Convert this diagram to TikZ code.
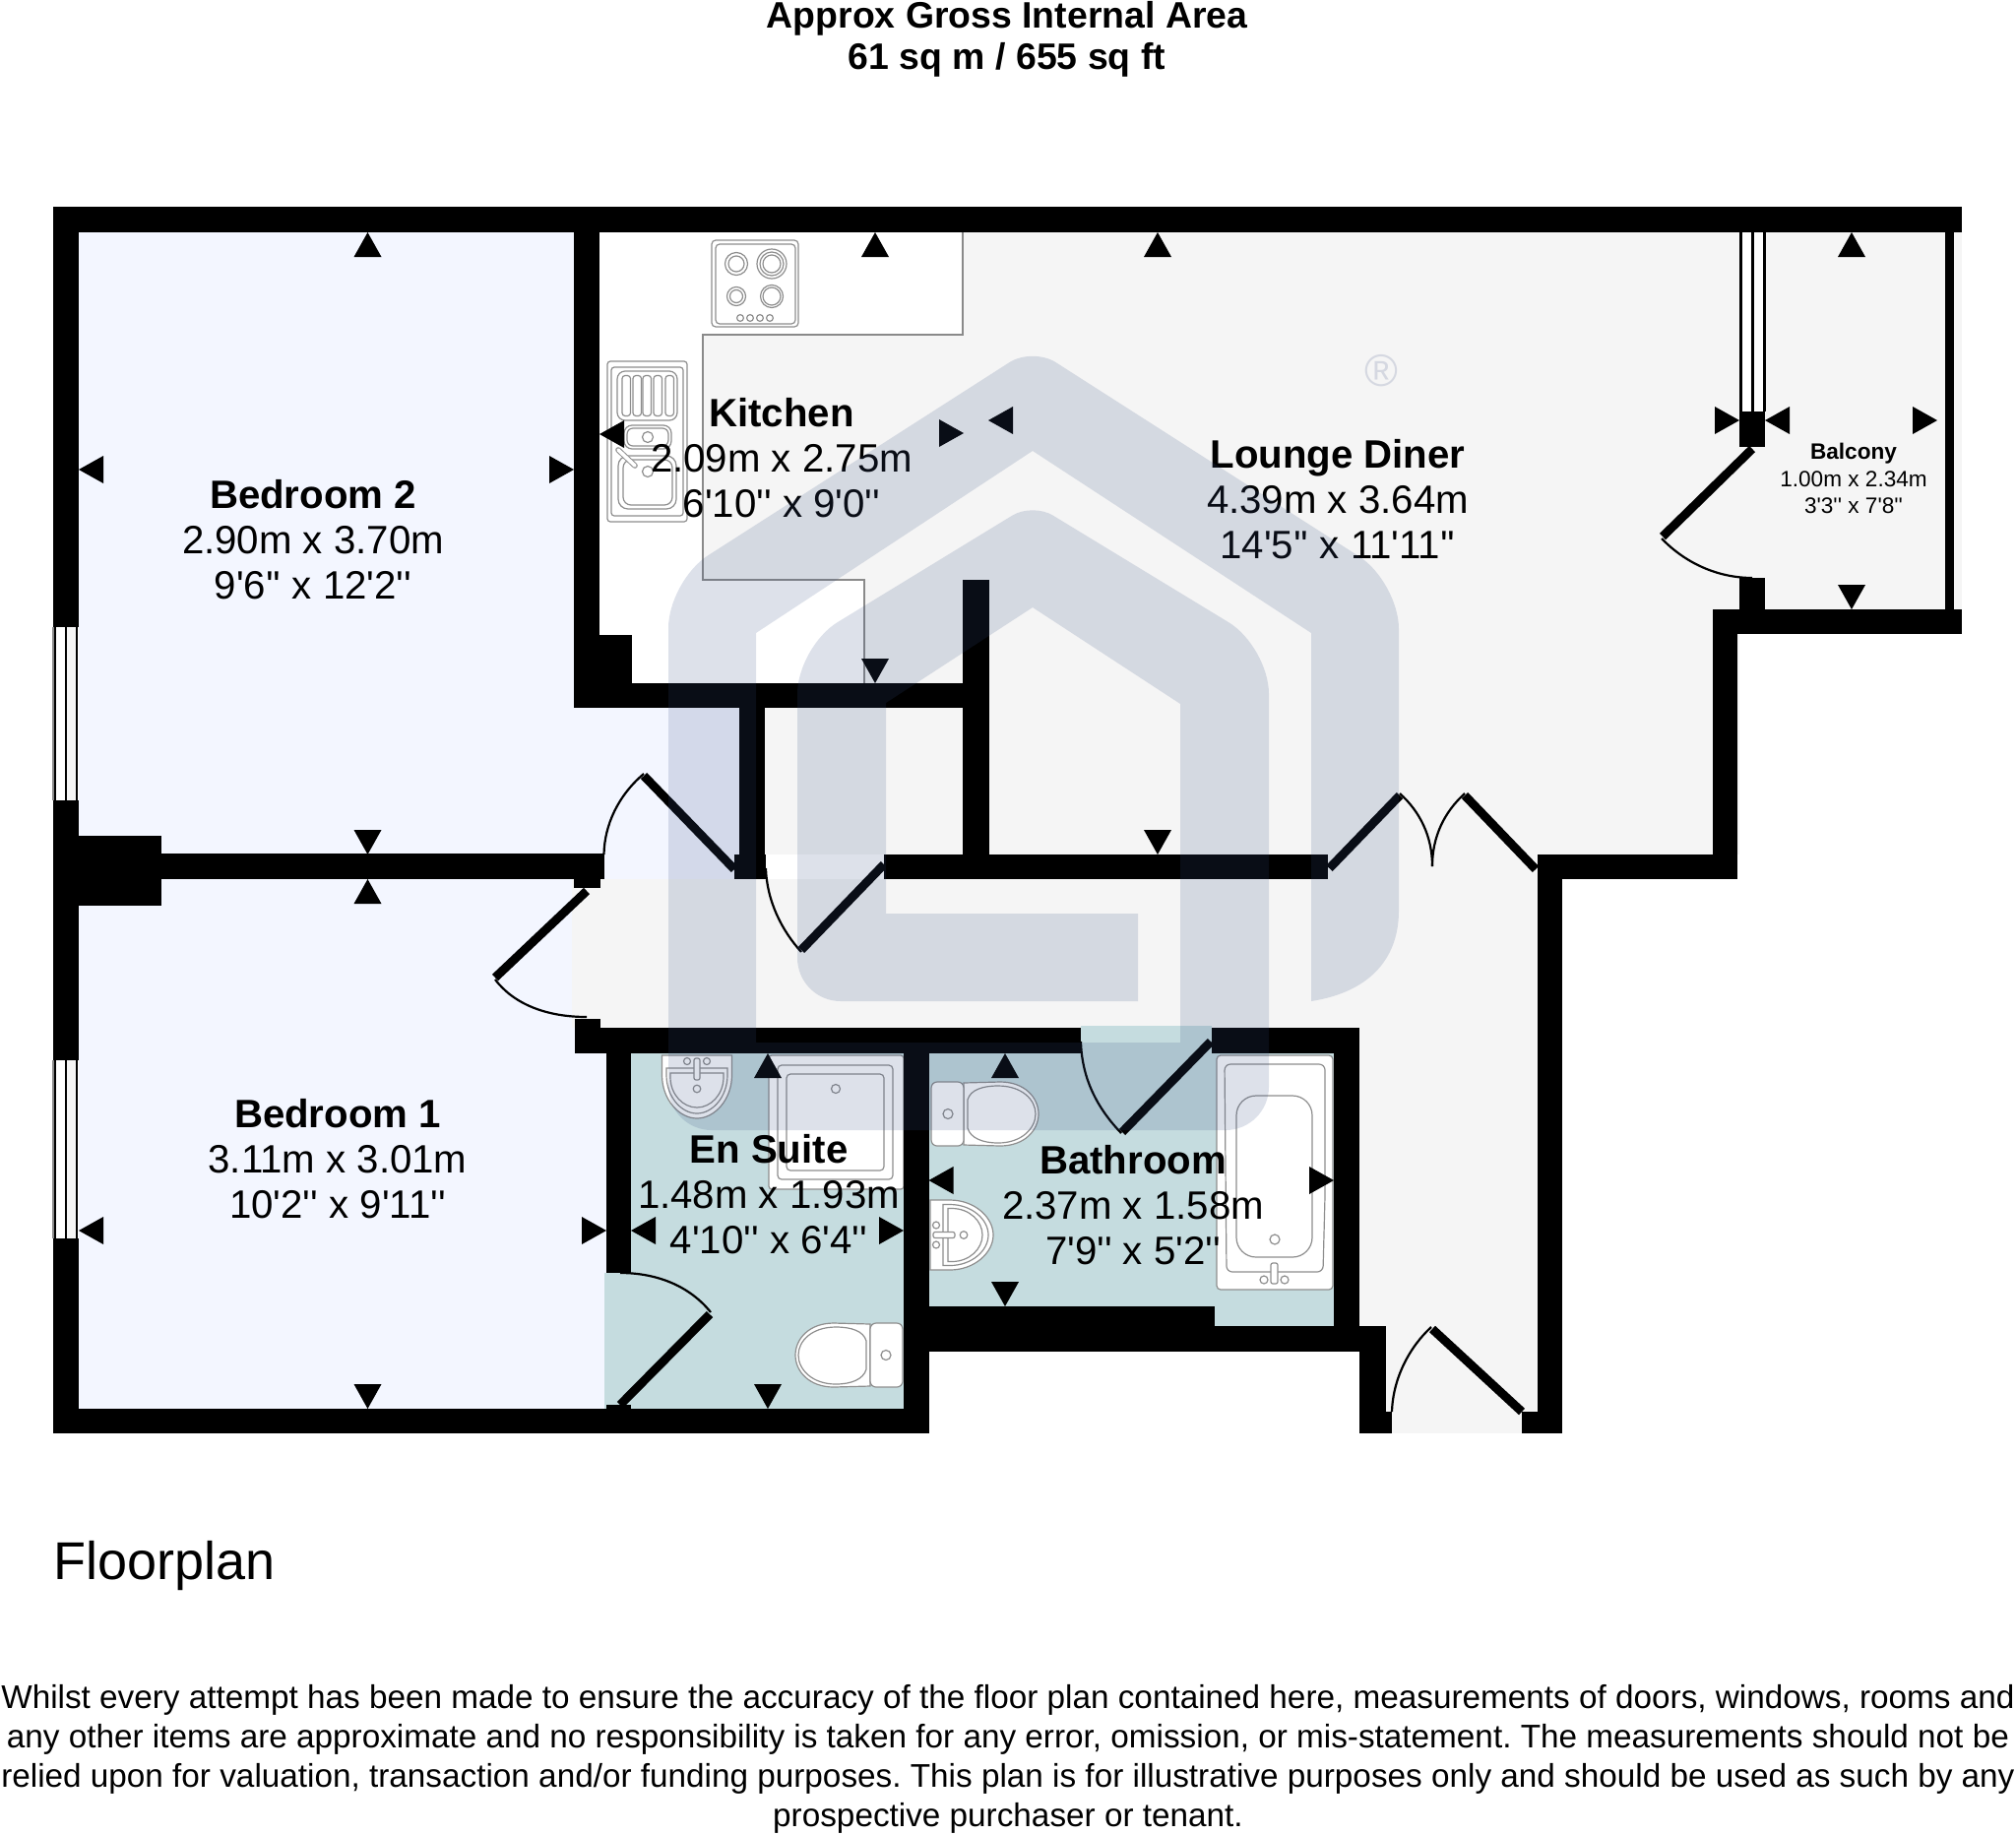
\documentclass[tikz,border=0pt]{standalone}
\usepackage{fontspec}
\setmainfont{Liberation Sans}[Ligatures=TeXOff]
\frenchspacing
\definecolor{bedblue}{HTML}{F3F6FF}
\definecolor{floorgray}{HTML}{F5F5F5}
\definecolor{wetteal}{HTML}{C5DCDF}
\definecolor{fixgray}{HTML}{8E8E8E}
\definecolor{linegray}{HTML}{8A8A8A}
\definecolor{wmark}{HTML}{374F84}
\definecolor{regmark}{HTML}{D5D8E1}
\tikzset{
  wallfill/.style={fill=black},
  fixture/.style={draw=fixgray,fill=white,line width=0.6pt},
  fixline/.style={draw=fixgray,line width=0.6pt},
  leaf/.style={draw=black,line width=4.4pt},
  swing/.style={draw=black,line width=1.1pt},
  roomtext/.style={align=center,inner sep=0pt,font=\fontsize{20.1}{23}\selectfont},
  smalltext/.style={align=center,inner sep=0pt,font=\fontsize{11.3}{13.6}\selectfont},
  headtext/.style={align=center,inner sep=0pt,font=\bfseries\fontsize{18.7}{21}\selectfont},
  disctext/.style={align=center,inner sep=0pt,font=\fontsize{16.65}{20}\selectfont},
  wm/.style={fill=wmark,fill opacity=0.17}
}
\newcommand\wallrect[4]{\fill[wallfill] (#1,#2) rectangle (#3,#4);}
\newcommand\arrowmark[3]{\fill[black,shift={(#1,#2)},rotate=#3] (0,0) -- (-25,14) -- (-25,-14) -- cycle;}
\newcommand\basinshape{%
  \draw[fixture] (0,-35.5) -- (20,-35.5) .. controls (45,-35.5) and (64,-18) .. (64,0) .. controls (64,18) and (45,35.5) .. (20,35.5) -- (0,35.5) -- cycle;
  \draw[fixline] (13,-31) -- (20,-31) .. controls (42,-31) and (59,-16) .. (59,0) .. controls (59,16) and (42,31) .. (20,31) -- (13,31) -- cycle;
  \draw[fixline] (18,-27) -- (22,-27) .. controls (40,-27) and (53,-14) .. (53,0) .. controls (53,14) and (40,27) .. (22,27) -- (18,27) -- cycle;
  \draw[fixture] (6,-10) circle (3.5);
  \draw[fixture] (6,10) circle (3.5);
  \draw[fixture,rounded corners=1pt] (3,-3) rectangle (25,3);
  \draw[fixline] (34,0) circle (3.8);
}
\newcommand\toiletshape{%
  \draw[fixture] (33,1) -- (70,0) .. controls (95,0) and (109,16) .. (109,32.5) .. controls (109,49) and (95,65) .. (70,65) -- (33,64) -- cycle;
  \draw[fixline] (37,18) .. controls (40,8) and (52,4) .. (68,4) .. controls (92,4) and (106,18) .. (106,32.5) .. controls (106,47) and (92,62) .. (68,62) .. controls (52,62) and (40,57) .. (37,47) -- cycle;
  \draw[fixture,rounded corners=3pt] (0,0) rectangle (33,65);
  \draw[fixline] (17,32.5) circle (5);
}
\begin{document}
\begin{tikzpicture}[x=0.5pt,y=-0.5pt]
\useasboundingbox (0,0) rectangle (2048,1863);
% floors
\fill[floorgray] (714,236) rectangle (1767,868);
\fill[floorgray] (1793,236) rectangle (1993,620);
\fill[floorgray] (581,893) rectangle (1562,1044);
\fill[floorgray] (1349,868) rectangle (1562,893);
\fill[floorgray] (1381,1044) rectangle (1562,1456);
\fill[floorgray] (1767,236) rectangle (1793,620);
\fill[bedblue] (80,236) rectangle (583,868);
\fill[bedblue] (583,719) rectangle (751,893);
\fill[bedblue] (80,893) rectangle (581,1044);
\fill[bedblue] (80,1044) rectangle (616,1431);
\fill[white] (609,236) -- (978,236) -- (978,340) -- (714,340) -- (714,589) -- (878,589) -- (878,694) -- (609,694) -- cycle;
\fill[wetteal] (641,1070) rectangle (918,1431);
\fill[wetteal] (614,1293) rectangle (641,1431);
\fill[wetteal] (943.5,1070) -- (1355,1070) -- (1355,1347) -- (1234,1347) -- (1234,1327) -- (943.5,1327) -- cycle;
\fill[wetteal] (1098,1042) rectangle (1231,1070);
\draw[linegray,line width=0.6pt] (978,236) -- (978,340) -- (714,340) -- (714,589) -- (878,589) -- (878,694);
% kitchen hob
\draw[fixture,rounded corners=2pt] (723,244) rectangle (811,332);
\draw[fixline,rounded corners=2pt] (727,248) rectangle (808,329);
\draw[fixline] (748,268) circle (11.5) (748,268) circle (8);
\draw[fixline] (784,268) circle (15) (784,268) circle (12) (784,268) circle (9);
\draw[fixline] (748,301) circle (9.5) (748,301) circle (6.5);
\draw[fixline] (784,301) circle (11.5) (784,301) circle (9);
\foreach \kx in {752,762,772,782} {\draw[fixline] (\kx,323) circle (3.4);}
% kitchen sink
\draw[fixture,rounded corners=1.5pt] (617,367) rectangle (698,530);
\draw[fixline,rounded corners=1.5pt] (621,373) rectangle (694,524);
\draw[fixline,rounded corners=4pt] (627,377) rectangle (688,427);
\foreach \sx in {632,643,653,664,676} {\draw[fixline,rounded corners=1.5pt] (\sx,381.5) rectangle ++(8.5,41);}
\draw[fixline,rounded corners=4pt] (634,432) rectangle (682,456);
\draw[fixline,rounded corners=3pt] (637,435) rectangle (679,453);
\draw[fixline] (658,444) circle (5.5);
\draw[fixline,rounded corners=5pt] (628,463) rectangle (687,517);
\draw[fixline,rounded corners=4pt] (633,467) rectangle (683,513);
\draw[fixline] (658,479) circle (5.5);
\draw[fixgray,line width=2.8pt,line cap=round] (628,457) -- (645,473);
\draw[white,line width=1.8pt,line cap=round] (628,457) -- (645,473);
% en suite fixtures
\draw[fixture,rounded corners=1.5pt] (781,1072) rectangle (918,1208);
\draw[fixline,rounded corners=2pt] (790,1082) rectangle (907,1198);
\draw[fixline,rounded corners=2pt] (799,1091) rectangle (898,1189);
\draw[fixline] (849,1106) circle (4.5);
\begin{scope}[shift={(708,1072)},rotate=-90]\basinshape\end{scope}
\begin{scope}[shift={(917,1344)},xscale=-1]\toiletshape\end{scope}
% bathroom fixtures
\begin{scope}[shift={(946,1099)}]\toiletshape\end{scope}
\begin{scope}[shift={(945,1254.5)}]\basinshape\end{scope}
\draw[fixture,rounded corners=2pt] (1236,1072) rectangle (1354,1310);
\draw[fixline,rounded corners=3pt] (1244,1081) -- (1346,1081) -- (1346,1215) -- (1344,1292) -- (1246,1292) -- cycle;
\draw[fixline,rounded corners=10pt] (1256,1113) rectangle (1333,1277);
\draw[fixline] (1295,1259) circle (5);
\draw[fixline] (1284,1300) circle (4);
\draw[fixline] (1305,1300) circle (4);
\draw[fixture,rounded corners=1pt] (1291,1283) rectangle (1298,1304);
% walls
\wallrect{54}{210}{1993}{236}
\wallrect{54}{210}{80}{637}
\wallrect{54}{813}{80}{1077}
\wallrect{54}{1258}{80}{1456}
\wallrect{80}{849}{164}{920}
\wallrect{164}{867}{613.5}{893}
\wallrect{583}{893}{610}{902}
\wallrect{583}{236}{609}{719}
\wallrect{609}{645}{642}{694}
\wallrect{583}{694}{1005}{719}
\wallrect{751}{719}{777}{868}
\wallrect{746}{868}{778}{893}
\wallrect{978}{589}{1005}{868}
\wallrect{898}{868}{1349}{893}
\wallrect{1562}{868}{1765}{893}
\wallrect{1740}{619}{1765}{893}
\wallrect{1740}{619}{1993}{644}
\wallrect{1767}{587}{1793}{619}
\wallrect{1767}{418}{1793}{454}
\wallrect{1976}{236}{1985}{619}
\wallrect{1562}{893}{1587}{1456}
\wallrect{584}{1044}{1098}{1070}
\wallrect{1231}{1044}{1381}{1070}
\wallrect{584}{1035}{610}{1044}
\wallrect{616}{1070}{641}{1293}
\wallrect{616}{1427}{641}{1431}
\wallrect{54}{1431}{943.5}{1456}
\wallrect{918}{1070}{943.5}{1431}
\wallrect{943.5}{1327}{1234}{1373}
\wallrect{1234}{1347}{1408}{1373}
\wallrect{1355}{1070}{1381}{1347}
\wallrect{1381}{1347}{1408}{1456}
\wallrect{1408}{1434}{1414}{1456}
\wallrect{1546}{1434}{1562}{1456}
% windows
\fill[black] (1767,236) rectangle (1794,418);
\fill[white] (1770,236) rectangle (1779,418);
\fill[white] (1782,236) rectangle (1791,418);
\fill[black] (55,637) rectangle (79,813);
\draw[linegray,line width=0.6pt] (54,637) -- (54,813);
\fill[white] (56.5,637) rectangle (66,813);
\fill[floorgray] (68,637) rectangle (77,813);
\fill[black] (55,1077) rectangle (79,1258);
\draw[linegray,line width=0.6pt] (54,1077) -- (54,1258);
\fill[white] (56.5,1077) rectangle (66,1258);
\fill[floorgray] (68,1077) rectangle (77,1258);
% doors
\draw[leaf] (746,883) -- (654,788);
\draw[swing] (654,786) .. controls (628,808) and (614,838) .. (613.5,868);
\draw[leaf] (898,878) -- (814,965);
\draw[swing] (814,967) .. controls (794,945) and (779,915) .. (778,882);
\draw[leaf] (1350.5,882) -- (1422,808);
\draw[swing] (1422,806) .. controls (1443,825) and (1455,850) .. (1455,880);
\draw[leaf] (1560,883) -- (1488,808);
\draw[swing] (1488,806) .. controls (1467,825) and (1455,850) .. (1455,880);
\draw[leaf] (596,905) -- (503,993);
\draw[swing] (503,995) .. controls (522,1020) and (555,1033) .. (596,1033);
\draw[leaf] (630,1427) -- (721,1335);
\draw[swing] (722,1333) .. controls (702,1308) and (670,1293) .. (630,1293);
\draw[leaf] (1230,1058) -- (1140,1150);
\draw[swing] (1139,1151) .. controls (1114,1125) and (1099,1095) .. (1098,1058);
\draw[leaf] (1780,456) -- (1689,545);
\draw[swing] (1688,547) .. controls (1712,572) and (1745,587) .. (1780,587);
\draw[leaf] (1546,1434) -- (1455,1350);
\draw[swing] (1454,1348) .. controls (1432,1368) and (1415,1400) .. (1414,1434);
% measuring arrows
\arrowmark{373.5}{236}{90}\arrowmark{889}{236}{90}\arrowmark{1176}{236}{90}\arrowmark{1881}{236}{90}
\arrowmark{373.5}{893}{90}\arrowmark{780}{1070}{90}\arrowmark{1021}{1070}{90}
\arrowmark{373.5}{868}{-90}\arrowmark{889}{694}{-90}\arrowmark{1176}{868}{-90}\arrowmark{1881}{619}{-90}
\arrowmark{373.5}{1431}{-90}\arrowmark{780}{1431}{-90}\arrowmark{1021}{1327}{-90}
\arrowmark{80}{477}{180}\arrowmark{80}{1250}{180}\arrowmark{609}{441}{180}\arrowmark{1004}{427}{180}
\arrowmark{1793}{427}{180}\arrowmark{641}{1250}{180}\arrowmark{943.5}{1199}{180}
\arrowmark{583}{477}{0}\arrowmark{616}{1250}{0}\arrowmark{979}{440}{0}\arrowmark{1767}{427}{0}
\arrowmark{1968}{427}{0}\arrowmark{918}{1250}{0}\arrowmark{1355}{1199}{0}
% texts
\node[headtext] (title) at (1023,39.5) {Approx Gross Internal Area\\61 sq m / 655 sq ft};
\node[roomtext] (bed2) at (318,548) {\textbf{Bedroom 2}\\2.90m x 3.70m\\9'6'' x 12'2''};
\node[roomtext] (kitchen) at (794,465) {\textbf{Kitchen}\\2.09m x 2.75m\\6'10'' x 9'0''};
\node[roomtext] (lounge) at (1359,507) {\textbf{Lounge Diner}\\4.39m x 3.64m\\14'5'' x 11'11''};
\node[smalltext] (balcony) at (1883,486) {\textbf{Balcony}\\1.00m x 2.34m\\3'3'' x 7'8''};
\node[roomtext] (bed1) at (343,1177) {\textbf{Bedroom 1}\\3.11m x 3.01m\\10'2'' x 9'11''};
\node[roomtext] (ensuite) at (781,1213) {\textbf{En Suite}\\1.48m x 1.93m\\4'10'' x 6'4''};
\node[roomtext] (bath) at (1151,1224) {\textbf{Bathroom}\\2.37m x 1.58m\\7'9'' x 5'2''};
\node[inner sep=0pt,anchor=west,font=\fontsize{27}{30}\selectfont] (fplan) at (54,1591) {Floorplan};
\node[disctext] (disc) at (1024,1787) {Whilst every attempt has been made to ensure the accuracy of the floor plan contained here, measurements of doors, windows, rooms and\\any other items are approximate and no responsibility is taken for any error, omission, or mis-statement. The measurements should not be\\relied upon for valuation, transaction and/or funding purposes. This plan is for illustrative purposes only and should be used as such by any\\prospective purchaser or tenant.};
% watermark
\fill[wm] (1332,1017) .. controls (1390,1008) and (1421,975) .. (1421,925)
  [rounded corners=24pt] -- (1421,591) [rounded corners=14pt] -- (1049,353) [rounded corners=24pt] -- (679,590)
  [rounded corners=22pt] -- (679,1148) -- (1289,1148) [rounded corners=24pt] -- (1289,657) [rounded corners=12pt] -- (1049,511) [rounded corners=24pt] -- (810,657)
  [rounded corners=22pt] -- (810,1017) [sharp corners] -- (1156,1017) -- (1156,928) -- (900,928) -- (900,714) -- (1049,617) -- (1199,715) -- (1199,1059) -- (768,1059) -- (768,643) -- (1049,458) -- (1332,643) -- cycle;
\node[text=regmark,inner sep=0pt,font=\fontsize{23}{23}\selectfont] (reg) at (1403,377) {®};
\end{tikzpicture}
\end{document}
